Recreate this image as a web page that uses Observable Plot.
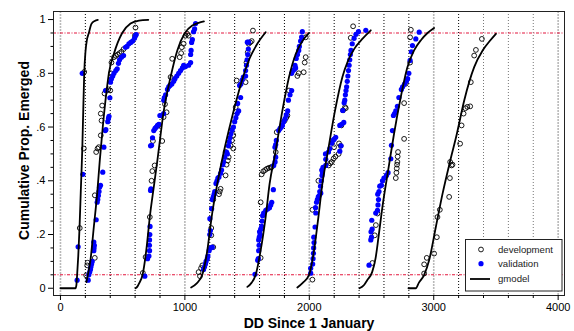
<!DOCTYPE html>
<html><head><meta charset="utf-8">
<script src="https://cdn.jsdelivr.net/npm/d3@7"></script>
<script src="https://cdn.jsdelivr.net/npm/@observablehq/plot@0.6"></script>
<style>
body{margin:0;background:#fff;}
#wrap{position:relative;width:574px;height:331px;font-family:"Liberation Sans",Arial,sans-serif;}
#legend{position:absolute;left:465px;top:239px;}
</style></head><body><div id="wrap"></div>
<script>
// ---- tick labels / reference lines ----
const xTicks = [0, 1000, 2000, 3000, 4000];
const xMinorTicks = [200,400,600,800,1200,1400,1600,1800,2200,2400,2600,2800,3200,3400,3600,3800];
const yTicks = [0, 0.2, 0.4, 0.6, 0.8, 1];
const yTickLabels = ["0", ".2", ".4", ".6", ".8", "1"];
const yMinorTicks = [0.05,0.1,0.15,0.25,0.3,0.35,0.45,0.5,0.55,0.65,0.7,0.75,0.85,0.9,0.95];
const refLinesDark = [200,400,600,800,1200,1400,1600,1800,2200,2400,2600,2800,3200];
const refLinesLight = [3400,3600,3800];
const thresholds = [0.05, 0.95];

// ---- gmodel curves (DD, proportion) ----
const gm1 = [[0,0],[121,0],[128,0.012],[134,0.05],[143,0.12],[153,0.223],[164,0.37],[175,0.513],[183,0.66],[191,0.80],[201,0.88],[213,0.925],[228,0.95],[249,0.984],[275,0.995],[300,0.999]];
const gm2 = [[209,0.023],[220,0.05],[241,0.104],[268,0.228],[295,0.352],[316,0.476],[340,0.6],[368,0.724],[389,0.80],[429,0.872],[496,0.95],[563,0.985],[630,0.996],[706,0.999]];
const gm3 = [[603,0],[618,0.006],[632,0.018],[660,0.05],[692,0.15],[718,0.265],[751,0.38],[780,0.48],[831,0.662],[885,0.786],[939,0.885],[1000,0.95],[1060,0.978],[1110,0.988],[1153,0.993]];
const gm4 = [[1050,0.003],[1095,0.018],[1140,0.05],[1180,0.14],[1215,0.265],[1261,0.39],[1314,0.51],[1370,0.62],[1420,0.71],[1470,0.79],[1520,0.855],[1582,0.91],[1649,0.953]];
const gm5 = [[1502,0.005],[1535,0.02],[1569,0.05],[1609,0.141],[1649,0.265],[1681,0.389],[1727,0.505],[1784,0.662],[1837,0.786],[1891,0.872],[1945,0.92],[1998,0.95]];
const gm6 = [[1904,0.003],[1947,0.02],[1998,0.05],[2038,0.141],[2073,0.265],[2105,0.389],[2146,0.50],[2207,0.662],[2266,0.786],[2310,0.845],[2360,0.89],[2430,0.93],[2494,0.96]];
const gm7 = [[2403,0],[2440,0.012],[2465,0.03],[2505,0.06],[2532,0.11],[2556,0.19],[2590,0.31],[2620,0.40],[2641,0.46],[2681,0.575],[2730,0.699],[2789,0.823],[2842,0.885],[2900,0.925],[2950,0.95],[3003,0.969]];
const gm8 = [[2797,0],[2856,0],[2880,0.02],[2923,0.05],[2963,0.104],[3017,0.228],[3071,0.352],[3130,0.47],[3186,0.575],[3245,0.699],[3325,0.823],[3393,0.885],[3450,0.92],[3500,0.947]];

// ---- development observations ----
const dev1 = [[155,0.224],[188,0.52],[191,0.805]];
const dev2 = [[207,0.048],[215,0.085],[218,0.095],[276,0.113],[276,0.346],[287,0.507],[298,0.52],[308,0.525],[324,0.569],[330,0.624],[324,0.65],[335,0.68],[354,0.725],[370,0.736],[385,0.74],[400,0.736],[405,0.80],[410,0.84],[430,0.86],[445,0.865],[460,0.87],[475,0.875],[490,0.88],[507,0.89],[598,0.94],[603,0.97]];
const dev3 = [[662,0.057],[684,0.116],[718,0.265],[732,0.40],[738,0.436],[757,0.457],[743,0.548],[818,0.548],[786,0.606],[829,0.637],[853,0.655],[840,0.685],[885,0.786],[898,0.854],[958,0.86],[970,0.875],[975,0.897],[990,0.91],[1005,0.94],[1019,0.947],[1030,0.94]];
const dev4 = [[1110,0.06],[1121,0.045],[1130,0.075],[1140,0.085],[1212,0.197],[1212,0.224],[1228,0.153],[1228,0.33],[1274,0.35],[1280,0.36],[1287,0.37],[1327,0.42],[1335,0.46],[1345,0.475],[1352,0.488],[1327,0.507],[1368,0.53],[1378,0.55],[1389,0.57],[1389,0.52],[1408,0.674],[1416,0.773],[1488,0.767],[1495,0.84],[1505,0.878],[1512,0.91],[1525,0.915],[1537,0.92],[1547,0.959]];
const dev5 = [[1609,0.113],[1609,0.32],[1617,0.424],[1630,0.435],[1645,0.44],[1660,0.445],[1675,0.448],[1690,0.45],[1698,0.451],[1730,0.507],[1738,0.581],[1802,0.624],[1815,0.635],[1824,0.643],[1837,0.736],[1904,0.79],[1915,0.80],[1955,0.804],[1963,0.84],[1971,0.86],[1971,0.934]];
const dev6 = [[2025,0.032],[2025,0.292],[2073,0.40],[2156,0.457],[2168,0.465],[2180,0.47],[2196,0.483],[2210,0.49],[2236,0.50],[2199,0.525],[2239,0.539],[2252,0.53],[2258,0.606],[2271,0.662],[2287,0.674],[2293,0.67],[2333,0.932],[2352,0.975]];
const dev7 = [[2507,0.094],[2526,0.197],[2535,0.235],[2548,0.278],[2695,0.41],[2700,0.43],[2703,0.446],[2705,0.46],[2708,0.47],[2710,0.49],[2713,0.507],[2762,0.556],[2762,0.689],[2775,0.761],[2810,0.84],[2810,0.934],[2816,0.962]];
const dev8 = [[2923,0.055],[2923,0.089],[2944,0.113],[3003,0.129],[3025,0.19],[3030,0.265],[3049,0.292],[3124,0.34],[3130,0.41],[3132,0.47],[3143,0.457],[3151,0.46],[3212,0.538],[3224,0.606],[3240,0.65],[3255,0.67],[3270,0.675],[3293,0.677],[3298,0.767],[3325,0.866],[3339,0.887],[3387,0.928]];

// ---- validation observations ----
const val1 = [[134,0.03],[142,0.154],[180,0.424],[175,0.80]];
const val2 = [[223,0.03],[228,0.05],[235,0.06],[241,0.07],[245,0.08],[250,0.09],[255,0.1],[268,0.14],[270,0.15],[272,0.16],[268,0.172],[287,0.255],[295,0.32],[300,0.33],[305,0.345],[310,0.36],[314,0.376],[322,0.383],[340,0.432],[349,0.525],[360,0.587],[365,0.59],[380,0.62],[386,0.632],[390,0.64],[362,0.736],[397,0.709],[402,0.767],[410,0.78],[420,0.79],[430,0.8],[445,0.81],[456,0.817],[466,0.837],[475,0.85],[490,0.86],[507,0.866],[523,0.897],[535,0.9],[550,0.91],[565,0.915],[580,0.92],[595,0.93],[603,0.94],[609,0.944]];
const val3 = [[678,0.045],[700,0.11],[711,0.12],[716,0.14],[715,0.16],[716,0.18],[718,0.2],[720,0.23],[724,0.364],[727,0.37],[724,0.53],[732,0.532],[740,0.56],[750,0.587],[760,0.595],[770,0.60],[780,0.606],[791,0.61],[799,0.643],[829,0.65],[830,0.70],[835,0.71],[845,0.72],[860,0.74],[870,0.75],[880,0.755],[895,0.76],[910,0.77],[920,0.78],[935,0.79],[950,0.80],[965,0.81],[980,0.82],[990,0.83],[1005,0.825],[1030,0.83],[1046,0.84],[1046,0.87],[1050,0.885],[1054,0.915],[1060,0.925],[1070,0.955],[1078,0.965],[1086,0.985]];
const val4 = [[1150,0.07],[1158,0.08],[1165,0.09],[1170,0.1],[1180,0.11],[1185,0.12],[1195,0.14],[1207,0.15],[1220,0.153],[1200,0.2],[1205,0.215],[1201,0.259],[1215,0.296],[1220,0.33],[1228,0.34],[1235,0.35],[1240,0.36],[1250,0.39],[1258,0.4],[1265,0.41],[1274,0.414],[1287,0.428],[1295,0.44],[1305,0.46],[1310,0.47],[1320,0.488],[1335,0.507],[1341,0.50],[1350,0.53],[1356,0.545],[1362,0.56],[1370,0.575],[1380,0.59],[1390,0.60],[1400,0.62],[1410,0.635],[1420,0.65],[1432,0.66],[1424,0.688],[1448,0.71],[1440,0.755],[1450,0.76],[1460,0.775],[1470,0.786],[1488,0.79],[1488,0.81],[1495,0.83],[1500,0.85],[1505,0.87],[1510,0.89],[1512,0.916],[1502,0.916]];
const val5 = [[1563,0.052],[1585,0.104],[1590,0.11],[1593,0.14],[1596,0.16],[1593,0.18],[1598,0.19],[1605,0.2],[1600,0.21],[1609,0.22],[1617,0.23],[1620,0.25],[1625,0.27],[1633,0.28],[1650,0.29],[1665,0.295],[1680,0.3],[1690,0.31],[1698,0.32],[1711,0.367],[1714,0.457],[1725,0.47],[1730,0.488],[1724,0.525],[1730,0.535],[1735,0.55],[1754,0.587],[1765,0.595],[1775,0.60],[1784,0.606],[1794,0.62],[1805,0.63],[1815,0.645],[1826,0.66],[1832,0.70],[1845,0.72],[1858,0.736],[1858,0.80],[1870,0.81],[1880,0.815],[1890,0.82],[1885,0.83],[1895,0.855],[1905,0.87],[1915,0.885],[1920,0.90],[1930,0.92],[1938,0.935],[1944,0.955]];
const val6 = [[2011,0.056],[2011,0.074],[2027,0.09],[2030,0.11],[2033,0.13],[2035,0.15],[2038,0.17],[2036,0.19],[2046,0.228],[2052,0.28],[2050,0.30],[2058,0.32],[2065,0.33],[2072,0.34],[2080,0.345],[2092,0.354],[2084,0.36],[2090,0.38],[2096,0.40],[2102,0.42],[2106,0.43],[2100,0.44],[2110,0.45],[2132,0.457],[2132,0.48],[2130,0.50],[2154,0.507],[2165,0.52],[2180,0.54],[2190,0.55],[2200,0.555],[2212,0.562],[2245,0.51],[2255,0.53],[2245,0.606],[2260,0.61],[2277,0.617],[2269,0.662],[2280,0.69],[2285,0.70],[2290,0.72],[2295,0.736],[2300,0.75],[2305,0.77],[2310,0.79],[2315,0.81],[2320,0.83],[2325,0.85],[2330,0.87],[2335,0.885],[2345,0.91],[2360,0.93],[2375,0.945],[2395,0.955],[2454,0.96]];
const val7 = [[2480,0.086],[2494,0.18],[2500,0.19],[2496,0.21],[2505,0.22],[2502,0.253],[2534,0.28],[2548,0.29],[2552,0.31],[2556,0.33],[2550,0.35],[2560,0.36],[2566,0.38],[2580,0.383],[2588,0.40],[2600,0.41],[2620,0.42],[2633,0.43],[2655,0.482],[2660,0.532],[2668,0.587],[2676,0.643],[2685,0.65],[2695,0.66],[2708,0.677],[2720,0.71],[2740,0.74],[2750,0.75],[2765,0.76],[2780,0.77],[2790,0.78],[2800,0.80],[2810,0.848],[2820,0.88],[2829,0.903],[2856,0.928],[2883,0.953]];

const legendLabels = ["development", "validation", "gmodel"];
const xTitle = "DD Since 1 January";
const yTitle = "Cumulative Prop. Emerged";

// ---- build tables ----
const toRows = (arr, g) => arr.map(([x, y]) => ({x, y, g}));
const curves = [gm1, gm2, gm3, gm4, gm5, gm6, gm7, gm8].flatMap((c, i) => toRows(c, i));
const devRows = [dev1, dev2, dev3, dev4, dev5, dev6, dev7, dev8].flatMap((c, i) => toRows(c, i));
const valRows = [val1, val2, val3, val4, val5, val6, val7].flatMap((c, i) => toRows(c, i));

const chart = Plot.plot({
  width: 574, height: 331,
  marginLeft: 53, marginRight: 10, marginTop: 11, marginBottom: 36,
  style: {fontFamily: '"Liberation Sans", Arial, sans-serif', background: "#fff", color: "#000"},
  x: {domain: [-56, 4051]},
  y: {domain: [-0.027, 1.03]},
  marks: [
    Plot.ruleX(xTicks, {stroke: "#b9b9b9", strokeWidth: 1.6, strokeDasharray: "2,1"}),
    Plot.ruleX(refLinesDark, {stroke: "#000", strokeWidth: 1, strokeDasharray: "1,2"}),
    Plot.ruleX(refLinesLight, {stroke: "#777", strokeWidth: 1, strokeDasharray: "1,2"}),
    Plot.ruleY(thresholds, {stroke: "#e3173e", strokeWidth: 1.1, strokeDasharray: "3,1.5,1,1.5"}),
    Plot.dot(devRows, {x: "x", y: "y", r: 2.4, stroke: "#000", strokeWidth: 0.9, fill: "none"}),
    Plot.dot(valRows, {x: "x", y: "y", r: 2.6, fill: "#0000ff", stroke: "none"}),
    Plot.line(curves, {x: "x", y: "y", z: "g", stroke: "#000", strokeWidth: 1.8, curve: "monotone-x"}),
    Plot.frame({stroke: "#222", strokeWidth: 1}),
    Plot.axisX({ticks: xTicks, tickSize: 5, tickPadding: 3, fontSize: 11, label: null, tickFormat: d3.format("d")}),
    Plot.axisX({ticks: xMinorTicks, tickSize: 3, label: null, tickFormat: () => ""}),
    Plot.axisY({ticks: yTicks, tickSize: 5, tickPadding: 3, fontSize: 11, label: null, tickFormat: (d) => yTickLabels[yTicks.indexOf(d)]}),
    Plot.axisY({ticks: yMinorTicks, tickSize: 2.5, label: null, tickFormat: () => ""}),
    Plot.text([xTitle], {text: d => d, frameAnchor: "bottom", textAnchor: "middle", lineAnchor: "bottom", dy: 32, fontSize: 14, fontWeight: "bold"}),
    Plot.text([yTitle], {text: d => d, frameAnchor: "left", textAnchor: "middle", rotate: -90, lineAnchor: "bottom", dx: -24.5, dy: -3, fontSize: 14, fontWeight: "bold"})
  ]
});
const wrap = document.getElementById("wrap");
wrap.appendChild(chart);

// legend (inside plot area, bottom-right)
const lg = d3.select(wrap).append("svg").attr("id", "legend").attr("width", 98).attr("height", 53)
  .style("font-family", '"Liberation Sans", Arial, sans-serif');
lg.append("rect").attr("x", 0.5).attr("y", 0.5).attr("width", 96.5).attr("height", 51.5).attr("fill", "#fff").attr("stroke", "#222");
const rowsY = [10.5, 24.7, 40];
lg.append("circle").attr("cx", 16).attr("cy", rowsY[0]).attr("r", 2.4).attr("fill", "none").attr("stroke", "#000").attr("stroke-width", 0.9);
lg.append("circle").attr("cx", 16).attr("cy", rowsY[1]).attr("r", 2.6).attr("fill", "#0000ff");
lg.append("line").attr("x1", 5).attr("x2", 25).attr("y1", rowsY[2]).attr("y2", rowsY[2]).attr("stroke", "#000").attr("stroke-width", 1.8);
legendLabels.forEach((t, i) => {
  lg.append("text").attr("x", 33).attr("y", rowsY[i] + 3.4).attr("font-size", 9.6).attr("fill", "#222").text(t);
});
</script></body></html>
